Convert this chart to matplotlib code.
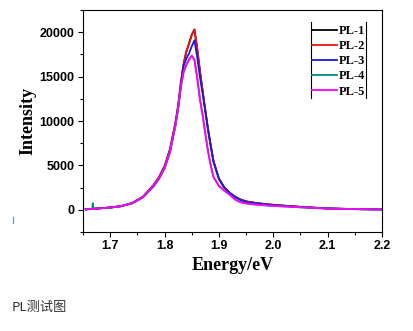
import matplotlib
matplotlib.use("Agg")
import matplotlib.pyplot as plt
from matplotlib.ticker import MultipleLocator
from matplotlib.lines import Line2D

energy = [1.655, 1.667, 1.668, 1.669, 1.70, 1.72, 1.74, 1.76, 1.78, 1.79, 1.80, 1.81,
          1.82, 1.825, 1.83, 1.835, 1.84, 1.845, 1.85, 1.855, 1.86, 1.865, 1.87,
          1.875, 1.88, 1.885, 1.89, 1.90, 1.91, 1.92, 1.93, 1.94, 1.95, 1.96, 1.98, 2.00,
          2.05, 2.10, 2.15, 2.20]

pl2 = [60, 110, 115, 120, 260, 420, 750, 1450, 2800, 3700, 4900, 6800,
       9800, 11700, 14300, 16400, 17800, 18700, 19700, 20300, 18200, 15700, 13400,
       11200, 9000, 7200, 5500, 3500, 2500, 1900, 1450, 1150, 950, 840, 680, 560,
       330, 150, 80, 40]
pl1 = list(pl2)
pl3 = [50, 100, 105, 110, 250, 400, 720, 1380, 2650, 3500, 4650, 6500,
       9500, 11400, 14000, 16200, 17000, 17600, 18400, 19100, 17200, 15000, 13100,
       11100, 9100, 7200, 5400, 3500, 2500, 1900, 1450, 1100, 900, 790, 650, 520,
       320, 150, 80, 40]
pl5 = [50, 100, 105, 110, 250, 400, 720, 1400, 2700, 3550, 4700, 6500,
       9500, 11400, 13800, 15500, 16300, 16900, 17350, 16900, 14900, 12500, 10700,
       8600, 6600, 5000, 3700, 2700, 2150, 1700, 1150, 850, 720, 640, 530, 440,
       280, 140, 70, 40]
pl4 = list(pl5)
pl4[2] = 750

labels = ["PL-1", "PL-2", "PL-3", "PL-4", "PL-5"]
series = [pl1, pl2, pl3, pl4, pl5]
colors = ["#000000", "#ee1111", "#1a1ae0", "#008b8b", "#ff00ff"]

xticks = [1.7, 1.8, 1.9, 2.0, 2.1, 2.2]
yticks = [0, 5000, 10000, 15000, 20000]

fig = plt.figure(figsize=(4.13, 3.31), dpi=100)
ax = fig.add_axes([83/413, 1-232/331, 299/413, 222/331])

for lab, s, c in zip(labels, series, colors):
    ax.plot(energy, s, color=c, lw=1.3, label=lab)

ax.set_xlim(1.65, 2.2)
ax.set_ylim(-2500, 22500)
ax.set_xticks(xticks)
ax.set_xticklabels(["%.1f" % v for v in xticks])
ax.set_yticks(yticks)
ax.xaxis.set_minor_locator(MultipleLocator(0.05))
ax.yaxis.set_minor_locator(MultipleLocator(2500))
ax.tick_params(which="major", direction="out", length=3.5, width=0.8, pad=2.5)
ax.tick_params(which="minor", direction="out", length=2, width=0.8)
for lab in ax.get_xticklabels() + ax.get_yticklabels():
    lab.set_fontfamily("Liberation Sans")
    lab.set_fontweight("bold")
    lab.set_fontsize(9)
for sp in ax.spines.values():
    sp.set_linewidth(0.8)

ax.set_xlabel("Energy/eV", fontfamily="Liberation Serif", fontweight="bold", fontsize=13, labelpad=3)
ax.set_ylabel("Intensity", fontfamily="Liberation Serif", fontweight="bold", fontsize=13, labelpad=2)

leg = ax.legend(loc="upper left", bbox_to_anchor=(0.765, 0.932), frameon=False,
                borderpad=0, borderaxespad=0, handlelength=2.0, handletextpad=0.2,
                labelspacing=0.25,
                prop={"family": "Liberation Serif", "weight": "bold", "size": 9})
ax.plot([0.7625, 0.7625], [0.604, 0.946], transform=ax.transAxes, color="black", lw=0.8, clip_on=False)
ax.plot([0.9465, 0.9465], [0.604, 0.946], transform=ax.transAxes, color="black", lw=0.8, clip_on=False)

fig.text(12/413, 1-307/331, "PL测试图", fontfamily=["Noto Sans CJK SC", "DejaVu Sans"],
         fontsize=9.5, color="#333333", va="center", ha="left")
fig.add_artist(Line2D([12.5/413, 12.5/413], [1-223/331, 1-217/331], color="#6a8fc0", lw=0.8))

fig.savefig("out.png", dpi=100)
